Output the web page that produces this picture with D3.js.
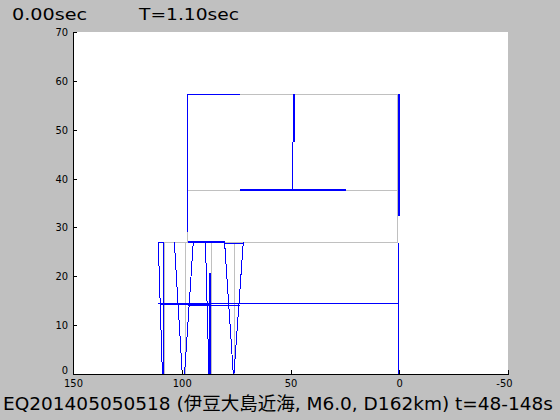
<!DOCTYPE html>
<html><head><meta charset="utf-8">
<script src="https://cdn.jsdelivr.net/npm/d3@7"></script>
<style>
html,body{margin:0;padding:0;background:#c0c0c0;}
svg{display:block;}
</style></head>
<body>
<script>
// ---- data (data coordinates: x = horizontal distance, y = height) ----
const xTicks = [150, 100, 50, 0, -50];
const yTicks = [0, 10, 20, 30, 40, 50, 60, 70];
const timeLabel = "0.00sec";
const periodLabel = "T=1.10sec";
const titleLabel = "EQ201405050518 (伊豆大島近海, M6.0, D162km) t=48-148s";

// undeformed frame (gray): [x1, y1, x2, y2]
const grayLines = [
  [97.3, 57.3, 0.8, 57.3],
  [97.3, 37.5, 0.8, 37.5],
  [110.8, 26.9, 0.8, 26.9],
  [97.3, 26.9, 97.3, 57.3],
  [0.8, 26.9, 0.8, 57.3],
  [108.0, 0, 108.0, 26.9],
  [98.4, 0, 98.4, 26.9],
  [86.2, 0, 86.2, 26.9],
  [75.8, 0, 75.8, 26.9],
  [110.8, 14.5, 0.8, 14.5]
];
// deformed frame (blue): [x1, y1, x2, y2, weight]
const blueLines = [
  [97.3, 57.3, 73.2, 57.3, 1],
  [97.3, 57.3, 97.3, 29.0, 1],
  [48.6, 57.3, 48.6, 47.5, 2],
  [49.0, 47.5, 49.0, 37.66, 1],
  [73.2, 37.66, 24.5, 37.66, 2],
  [0.0, 57.3, 0.0, 32.3, 2],
  [0.44, 26.9, 0.44, 0, 1],
  [110.8, 26.96, 108.0, 26.96, 1],
  [97.3, 26.96, 80.3, 26.96, 2],
  [80.3, 26.8, 71.7, 26.8, 1],
  [110.8, 14.53, 0.44, 14.53, 1],
  [110.0, 14.4, 86.5, 14.4, 2],
  [97.3, 14.12, 73.2, 14.12, 1],
  [110.8, 26.96, 108.9, 0, 1],
  [108.5, 26.96, 108.5, 0, 1],
  [103.4, 26.96, 99.75, 0, 1],
  [94.7, 26.96, 98.7, 0, 1],
  [89.1, 26.96, 87.5, 0, 1],
  [86.9, 20.7, 86.9, 0, 2],
  [80.3, 26.96, 76.3, 0, 1],
  [71.7, 26.96, 76.0, 0, 1]
];

// ---- drawing ----
const W = 560, H = 420;
const L = 73, R = 508, T = 32, B = 374;
const svg = d3.select("body").append("svg").attr("width", W).attr("height", H);
svg.append("rect").attr("width", W).attr("height", H).attr("fill", "#c0c0c0");
svg.append("rect").attr("x", L).attr("y", T).attr("width", R - L).attr("height", B - T).attr("fill", "#ffffff");

const x = d3.scaleLinear().domain([150, -50]).range([L, R]);
const y = d3.scaleLinear().domain([0, 70]).range([B, T]);

const plot = svg.append("g").attr("shape-rendering", "crispEdges");
plot.selectAll("line.g").data(grayLines).join("line").attr("class", "g")
  .attr("x1", d => x(d[0])).attr("y1", d => y(d[1]))
  .attr("x2", d => x(d[2])).attr("y2", d => y(d[3]))
  .attr("stroke", "#c0c0c0").attr("stroke-width", 1);
plot.selectAll("line.b").data(blueLines).join("line").attr("class", "b")
  .attr("x1", d => x(d[0])).attr("y1", d => y(d[1]))
  .attr("x2", d => x(d[2])).attr("y2", d => y(d[3]))
  .attr("stroke", "#0000ff").attr("stroke-width", d => d[4]);

const fmt = d => String(d);  // plain hyphen-minus like the reference
const tickFont = "'Liberation Sans Narrow','DejaVu Sans Condensed',sans-serif";
const xAxis = svg.append("g").attr("transform", `translate(0,${B})`)
  .call(d3.axisBottom(x).tickValues(xTicks).tickFormat(fmt).tickSizeInner(-4).tickSizeOuter(0).tickPadding(5))
  .attr("shape-rendering", "crispEdges");
const yAxis = svg.append("g").attr("transform", `translate(${L},0)`)
  .call(d3.axisLeft(y).tickValues(yTicks).tickFormat(fmt).tickSizeInner(-4).tickSizeOuter(0).tickPadding(5))
  .attr("shape-rendering", "crispEdges");
[xAxis, yAxis].forEach(a => {
  a.select(".domain").attr("stroke", "#000");
  a.selectAll(".tick line").attr("stroke", "#000");
  a.selectAll(".tick text").attr("fill", "#000").attr("font-family", tickFont).attr("font-size", 11);
});
xAxis.selectAll(".tick text").filter(d => d === -50).attr("text-anchor", "end").attr("dx", 4);
yAxis.selectAll(".tick text").filter(d => d === 0).attr("dy", "-0.05em");

const textFont = "'DejaVu Sans',sans-serif";
svg.append("text").attr("x", 12).attr("y", 19.5).text(timeLabel)
  .attr("font-family", textFont).attr("font-size", 16.5).attr("fill", "#000")
  .attr("textLength", 75).attr("lengthAdjust", "spacingAndGlyphs");
svg.append("text").attr("x", 139).attr("y", 19.5).text(periodLabel)
  .attr("font-family", textFont).attr("font-size", 16.5).attr("fill", "#000")
  .attr("textLength", 100).attr("lengthAdjust", "spacingAndGlyphs");
svg.append("text").attr("x", 3).attr("y", 410).text(titleLabel)
  .attr("font-family", "'DejaVu Sans','Noto Sans CJK JP',sans-serif").attr("font-size", 18.5).attr("fill", "#000")
  .attr("textLength", 550).attr("lengthAdjust", "spacingAndGlyphs");
</script>
</body></html>
